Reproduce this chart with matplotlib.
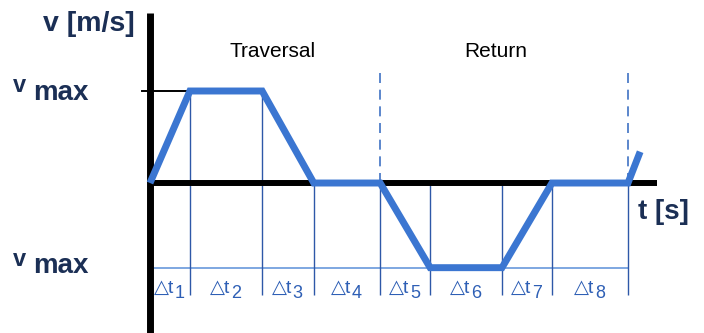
import matplotlib
matplotlib.use('Agg')
import matplotlib.pyplot as plt

# Motion profile: segment boundaries (time) and velocity at each boundary
t_edges = [0, 0.95, 2.67, 3.9, 5.48, 6.67, 8.38, 9.57, 11.38]
v_profile = [0, 1, 1, 0, 0, -0.92, -0.92, 0, 0]
# small rise at the start of the next cycle
t_tail = 11.67
v_tail = 0.34

dt_labels = ['1', '2', '3', '4', '5', '6', '7', '8']
phase_labels = ['Traversal', 'Return']

plt.rcParams['font.family'] = ['Liberation Sans', 'DejaVu Sans']

navy = '#1b2f55'
blue = '#3b76d1'
thin = '#2e58a8'
light = '#5b8fd8'

fig = plt.figure(figsize=(7.04, 3.33), dpi=100)
ax = fig.add_axes([0, 0, 1, 1])
ax.set_xlim(-3.571, 13.19)
ax.set_ylim(-1.630, 1.989)
ax.axis('off')

# thin grid of the time segments
v_low = min(v_profile)
ax.hlines(v_low, 0, t_edges[-1], color=light, lw=1.1, zorder=1)
for i, t in enumerate(t_edges[1:], start=1):
    top = 1 if v_profile[i] == 1 else 0
    ax.vlines(t, -1.217, top, color=thin, lw=1.0, zorder=1)
for t in (t_edges[4], t_edges[8]):
    ax.vlines(t, 0, 1.25, color='#3f72c4', lw=1.2, linestyles=(0, (6, 4)), zorder=1)

# axes
ax.plot([0, 0], [1.848, -1.63], color='black', lw=5, solid_capstyle='butt', zorder=3)
ax.plot([0, 12.07], [0, 0], color='black', lw=4.3, solid_capstyle='butt', zorder=2)
ax.plot([-0.19, t_edges[1]], [1, 1], color='black', lw=1.4, zorder=2)

# velocity curve
ax.plot(t_edges + [t_tail], v_profile + [v_tail], color=blue, lw=5,
        solid_joinstyle='miter', solid_capstyle='butt', zorder=4)

# labels
ax.text(-0.357, 1.728, 'v [m/s]', ha='right', va='center', fontsize=20.5,
        fontweight='bold', color=navy)
ax.text(11.62, -0.315, 't [s]', ha='left', va='center', fontsize=20,
        fontweight='bold', color=navy)
for vb, vs in ((0.902, 0.99), (-0.978, -0.90)):
    ax.text(-2.786, vb, 'max', ha='left', va='baseline', fontsize=20,
            fontweight='bold', color=navy)
    ax.text(-3.26, vs, 'v', ha='left', va='baseline', fontsize=17,
            fontweight='bold', color=navy)

ax.text(2.93, 1.43, phase_labels[0], ha='center', va='center', fontsize=15, color='black')
ax.text(8.24, 1.43, phase_labels[1], ha='center', va='center', fontsize=15, color='black')

for i, lab in enumerate(dt_labels):
    mid = (t_edges[i] + t_edges[i + 1]) / 2
    ax.annotate('△t', (mid, -1.141), xytext=(-4, 0), textcoords='offset points',
                ha='center', va='center', fontsize=14, color='#2e5fb5')
    ax.annotate(lab, (mid, -1.141), xytext=(3.5, -4), textcoords='offset points',
                ha='left', va='center', fontsize=13, color='#2e5fb5')

fig.savefig('out.png', dpi=100)
